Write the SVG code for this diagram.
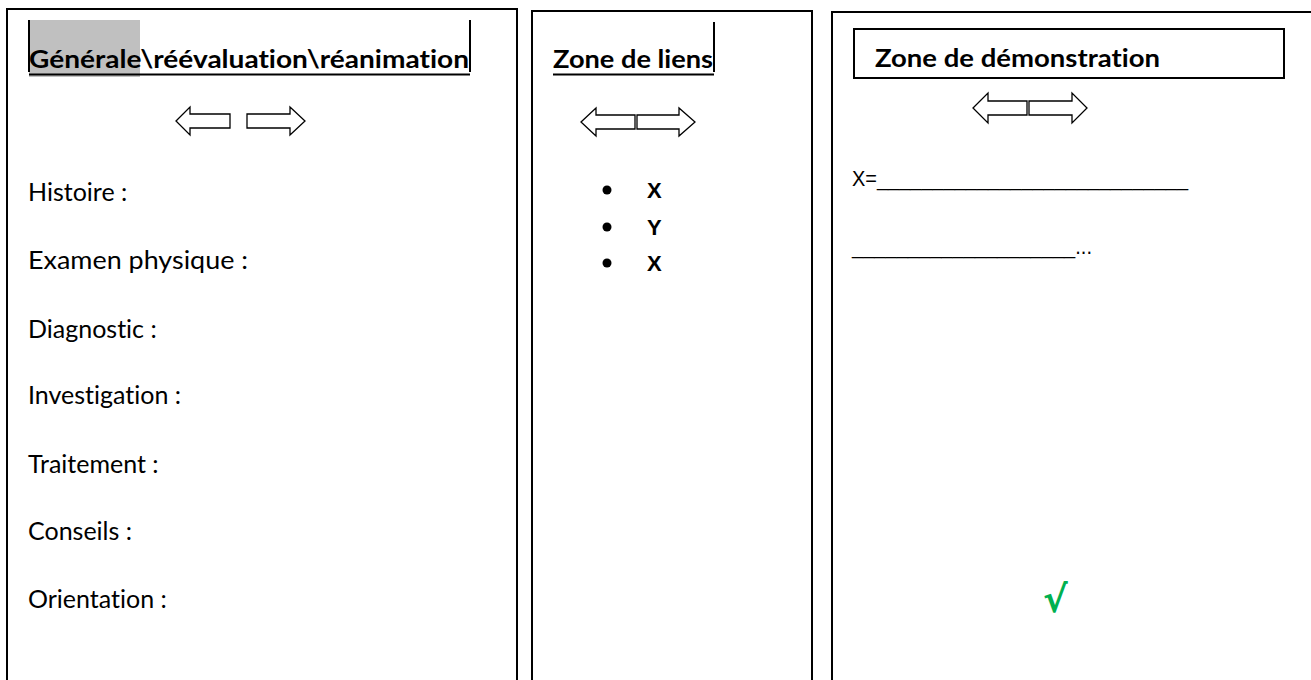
<svg xmlns="http://www.w3.org/2000/svg" width="1311" height="680" viewBox="0 0 1311 680">
<style>
.panel{fill:#fff;stroke:#000;stroke-width:2}
.arrow{fill:#fff;stroke:#000;stroke-width:1.3;stroke-linejoin:miter}
.title{font-family:Lato,"Open Sans",sans-serif;font-weight:bold;font-size:24px;fill:#000;font-variant-ligatures:none}
.body{font-family:Lato,"Open Sans",sans-serif;font-size:25px;fill:#000;font-variant-ligatures:none}
.arial{font-family:"Liberation Sans",Arial,sans-serif;fill:#000}
.ul{stroke:#000;stroke-width:2}
.cursor{stroke:#000;stroke-width:2}
</style>
<rect width="1311" height="680" fill="#fff"/>
<g id="panel-generale">
  <rect class="panel" x="7" y="9" width="510" height="700"/>
  <rect x="29" y="20" width="111" height="57" fill="#c0c0c0"/>
  <line class="cursor" x1="29" y1="20" x2="29" y2="72"/>
  <line class="cursor" x1="470" y1="20" x2="470" y2="72"/>
  <text class="title" x="29" y="68" textLength="440" lengthAdjust="spacingAndGlyphs">Générale\réévaluation\réanimation</text>
  <line class="ul" x1="29" y1="74.5" x2="470" y2="74.5"/>
  <polygon class="arrow" points="176,121 190,107 190,114 230,114 230,128 190,128 190,135"/>
  <polygon class="arrow" points="247,114 290,114 290,107 305,121 290,135 290,128 247,128"/>
  <text class="body" x="28" y="201">Histoire :</text>
  <text class="body" x="28" y="269" textLength="220" lengthAdjust="spacingAndGlyphs">Examen physique :</text>
  <text class="body" x="28" y="338">Diagnostic :</text>
  <text class="body" x="28" y="404">Investigation :</text>
  <text class="body" x="28" y="473">Traitement :</text>
  <text class="body" x="28" y="540">Conseils :</text>
  <text class="body" x="28" y="608">Orientation :</text>
</g>
<g id="panel-liens">
  <rect class="panel" x="532" y="11" width="280" height="700"/>
  <line class="cursor" x1="714" y1="22" x2="714" y2="72"/>
  <text class="title" x="553" y="68" textLength="160" lengthAdjust="spacingAndGlyphs">Zone de liens</text>
  <line class="ul" x1="553" y1="74.5" x2="714" y2="74.5"/>
  <polygon class="arrow" points="581,122 596,108 596,115 635,115 635,129 596,129 596,136"/>
  <polygon class="arrow" points="637,115 679,115 679,108 695,122 679,136 679,129 637,129"/>
  <circle cx="607" cy="190" r="4.5" fill="#000"/>
  <circle cx="607" cy="227" r="4.5" fill="#000"/>
  <circle cx="607" cy="263" r="4.5" fill="#000"/>
  <text class="arial" x="647" y="198" font-size="22" font-weight="bold">X</text>
  <text class="arial" x="647" y="235" font-size="22" font-weight="bold">Y</text>
  <text class="arial" x="647" y="271" font-size="22" font-weight="bold">X</text>
</g>
<g id="panel-demonstration">
  <rect class="panel" x="832" y="12" width="520" height="700"/>
  <rect x="854" y="29" width="430" height="49" fill="#fff" stroke="#000" stroke-width="2"/>
  <text class="title" x="875" y="67" textLength="285" lengthAdjust="spacingAndGlyphs">Zone de démonstration</text>
  <polygon class="arrow" points="973,108 988,93 988,101 1027,101 1027,115 988,115 988,123"/>
  <polygon class="arrow" points="1029,101 1072,101 1072,93 1087,108 1072,123 1072,115 1029,115"/>
  <text class="arial" x="852" y="186" font-size="21.5" textLength="336" lengthAdjust="spacingAndGlyphs">X=____________________________</text>
  <text class="arial" x="852" y="254" font-size="21.5" textLength="240" lengthAdjust="spacingAndGlyphs">____________________...</text>
  <text x="1043" y="612" font-family="'DejaVu Sans',sans-serif" font-weight="bold" font-size="37" fill="#00B050">√</text>
</g>
</svg>
